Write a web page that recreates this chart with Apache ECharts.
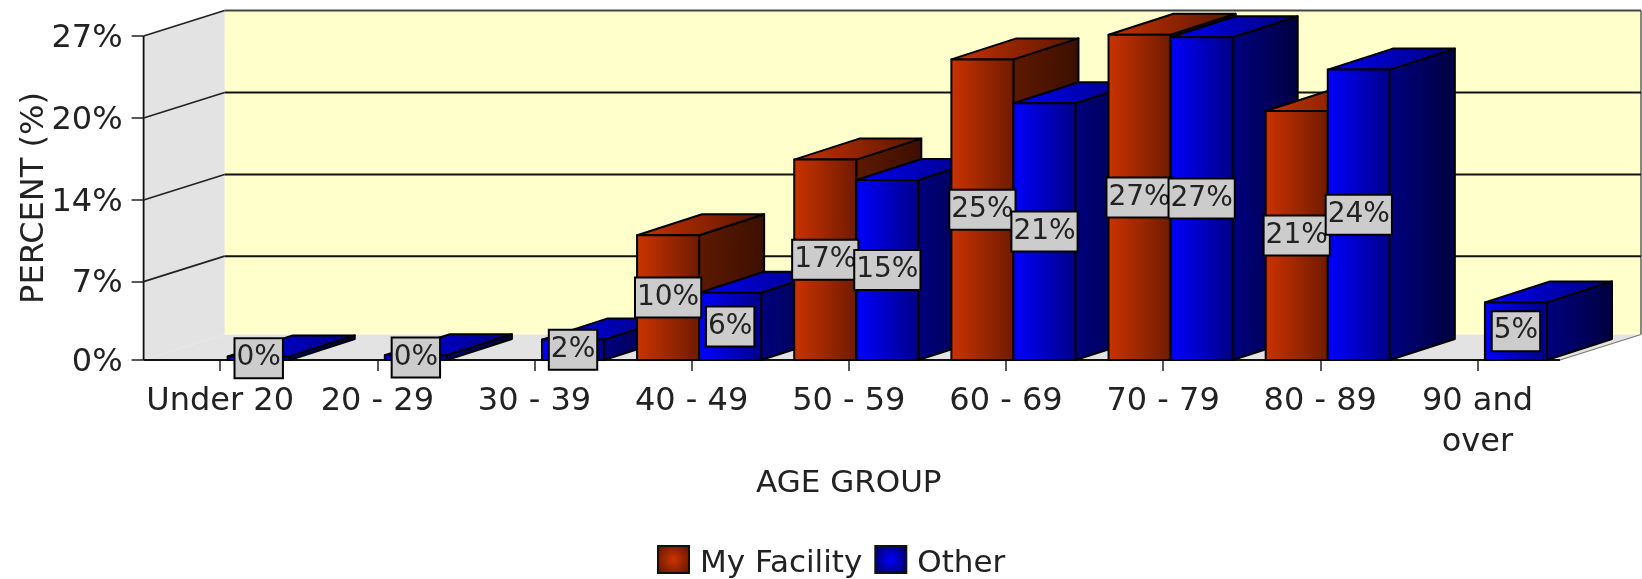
<!DOCTYPE html>
<html>
<head>
<meta charset="utf-8">
<style>
    html, body { margin: 0; padding: 0; background: #fff; }
    #main { width: 1642px; height: 579px; }
</style>
</head>
<body>
<div id="main"></div>
<script src="https://cdn.jsdelivr.net/npm/echarts@6/dist/echarts.min.js"></script>
<script>
    const categories = ['Under 20', '20 - 29', '30 - 39', '40 - 49', '50 - 59', '60 - 69', '70 - 79', '80 - 89', '90 and\nover'];
    const myFacility = [null, null, null, 10.4, 16.7, 25.05, 27.1, 20.75, null];
    const other = [0.3, 0.4, 1.7, 5.6, 15, 21.4, 26.9, 24.2, 4.8];
    const yTicks = [0, 6.53, 13.33, 20.17, 27];
    const yTickLabels = ['0%', '7%', '14%', '20%', '27%'];

    const FONT = '"DejaVu Sans", Verdana, sans-serif';
    const TEXT = '#222';

    // depth of the room and of the bars, in pixels
    const wallDx = 81, wallDy = 25.5;
    const barDx = 65, barDy = 21;
    const barShift = 7.5;

    function hGrad(a, b) {
        return { type: 'linear', x: 0, y: 0, x2: 1, y2: 0, colorStops: [{ offset: 0, color: a }, { offset: 1, color: b }] };
    }
    function legendGrad(a, b) {
        return { type: 'radial', x: 0.5, y: 0.5, r: 0.6, colorStops: [{ offset: 0, color: a }, { offset: 1, color: b }] };
    }

    const redFaces = { front: hGrad('#cc3300', '#6e1a00'), side: hGrad('#5e1900', '#3c0f00'), top: hGrad('#c93200', '#571500') };
    const blueFaces = { front: hGrad('#0000ff', '#000085'), side: hGrad('#000080', '#00003f'), top: hGrad('#0000f5', '#00007a') };

    function poly(points, fill, z2) {
        return {
            type: 'polygon', z2: z2,
            shape: { points: points },
            style: { fill: fill, stroke: '#000', lineWidth: 2, lineJoin: 'round' }
        };
    }

    function barRenderer(faces, seriesNo) {
        return function (params, api) {
            const v = api.value(1);
            if (isNaN(v)) {
                return;
            }
            const cat = api.value(0);
            const top = api.coord([cat, v]);
            const base = api.coord([cat, 0]);
            const w = api.size([1, 0])[0] * 0.395;
            const x0 = top[0] + barShift + (seriesNo === 0 ? -w : 0);
            const x1 = x0 + w;
            const z = cat * 10 + seriesNo * 2;
            return {
                type: 'group',
                children: [
                    poly([[x1, top[1]], [x1 + barDx, top[1] - barDy], [x1 + barDx, base[1] - barDy], [x1, base[1]]], faces.side, z),
                    poly([[x0, top[1]], [x1, top[1]], [x1 + barDx, top[1] - barDy], [x0 + barDx, top[1] - barDy]], faces.top, z),
                    poly([[x0, top[1]], [x1, top[1]], [x1, base[1]], [x0, base[1]]], faces.front, z + 1),
                    {
                        type: 'text', z2: 1000 + z,
                        style: {
                            text: Math.round(v) + '%',
                            x: (x0 + x1) / 2,
                            y: (top[1] + base[1]) / 2,
                            align: 'center',
                            verticalAlign: 'middle',
                            font: '28px ' + FONT,
                            fill: TEXT,
                            backgroundColor: '#cccccc',
                            borderColor: '#000',
                            borderWidth: 2,
                            padding: [5, 1]
                        }
                    }
                ]
            };
        };
    }

    function renderRoom(params, api) {
        const sys = params.coordSys;
        const left = sys.x + 2;
        const right = sys.x + sys.width + 4;
        const y0 = api.coord([0, 0])[1];
        const backLeft = left + wallDx;
        const backRight = right + wallDx;
        const line = function (x1, y1, x2, y2, color, width) {
            return {
                type: 'line', z2: 5,
                shape: { x1: x1, y1: y1, x2: x2, y2: y2 },
                style: { stroke: color || '#111', lineWidth: width || 1.8 }
            };
        };
        const yTop = api.coord([0, 27])[1];
        const children = [
            { type: 'rect', z2: 1, shape: { x: backLeft, y: yTop - wallDy, width: right - left, height: y0 - yTop }, style: { fill: '#ffffcc' } },
            { type: 'polygon', z2: 2, shape: { points: [[left, yTop], [backLeft, yTop - wallDy], [backLeft, y0 - wallDy], [left, y0]] }, style: { fill: '#e3e3e3' } },
            { type: 'polygon', z2: 2, shape: { points: [[left, y0], [right, y0], [backRight, y0 - wallDy], [backLeft, y0 - wallDy]] }, style: { fill: '#e3e3e3' } },
            line(backRight, yTop - wallDy, backRight, y0 - wallDy, '#555', 1.4),
            line(right, y0, backRight, y0 - wallDy, '#777', 1.2),
            line(left, yTop, left, y0),
            line(left, y0, right, y0, '#111', 2.2)
        ];
        yTicks.forEach(function (t) {
            if (t === 0) {
                return;
            }
            const y = api.coord([0, t])[1];
            const isTop = t === yTicks[yTicks.length - 1];
            children.push(line(left, y, backLeft, y - wallDy, '#222', 1.7));
            children.push(line(backLeft, y - wallDy, backRight, y - wallDy, isTop ? '#444' : '#111', 2));
        });
        return { type: 'group', children: children };
    }

    const option = {
        animation: false,
        backgroundColor: '#fff',
        textStyle: { fontFamily: FONT },
        grid: { left: 141.6, top: 36, width: 1414.4, height: 324, outerBoundsMode: 'none' },
        xAxis: {
            type: 'category',
            data: categories,
            name: 'AGE GROUP',
            nameLocation: 'middle',
            nameGap: 108,
            nameMoveOverlap: false,
            nameTextStyle: { fontSize: 31, color: TEXT, fontFamily: FONT },
            axisLine: { show: false },
            axisTick: { show: true, alignWithLabel: true, length: 11, lineStyle: { color: '#222', width: 1.5 } },
            axisLabel: { interval: 0, margin: 21, fontSize: 32, lineHeight: 41, color: TEXT, fontFamily: FONT }
        },
        yAxis: {
            type: 'value',
            min: 0,
            max: 27,
            offset: -2,
            name: 'PERCENT (%)',
            nameLocation: 'middle',
            nameGap: 93,
            nameMoveOverlap: false,
            nameRotate: 90,
            nameTextStyle: { fontSize: 32, color: TEXT, fontFamily: FONT },
            splitLine: { show: false },
            axisLine: { show: false },
            axisTick: { show: true, length: 12, customValues: yTicks, lineStyle: { color: '#222', width: 1.5 } },
            axisLabel: {
                margin: 21, color: TEXT, fontFamily: FONT,
                customValues: yTicks,
                formatter: function (v) {
                    return '{t|' + yTickLabels[yTicks.indexOf(v)] + '}';
                },
                rich: {
                    t: { fontSize: 32, color: TEXT, fontFamily: FONT, padding: [5, 0, 0, 0] }
                }
            }
        },
        legend: {
            left: 657,
            top: 545,
            padding: 0,
            icon: 'rect',
            itemWidth: 31,
            itemHeight: 27,
            itemGap: 12,
            textStyle: {
                color: TEXT,
                rich: {
                    t: { fontSize: 31, color: TEXT, fontFamily: FONT, padding: [9, 0, 0, 6] }
                }
            },
            formatter: function (name) {
                return '{t|' + name + '}';
            },
            data: [
                { name: 'My Facility', itemStyle: { color: legendGrad('#cc3300', '#6e1a00'), borderColor: '#111', borderWidth: 2 } },
                { name: 'Other', itemStyle: { color: legendGrad('#0000ff', '#000070'), borderColor: '#111', borderWidth: 2 } }
            ]
        },
        series: [
            {
                name: 'room',
                type: 'custom',
                z: 1,
                silent: true,
                renderItem: renderRoom,
                data: [[0, 0]]
            },
            {
                name: 'My Facility',
                type: 'custom',
                z: 2,
                renderItem: barRenderer(redFaces, 0),
                encode: { x: 0, y: 1 },
                itemStyle: { color: '#cc3300' },
                data: myFacility.map(function (v, i) { return [i, v === null ? '-' : v]; })
            },
            {
                name: 'Other',
                type: 'custom',
                z: 2,
                renderItem: barRenderer(blueFaces, 1),
                encode: { x: 0, y: 1 },
                itemStyle: { color: '#0000ff' },
                data: other.map(function (v, i) { return [i, v]; })
            }
        ]
    };

    const chart = echarts.init(document.getElementById('main'));
    chart.setOption(option);

    window.addEventListener('resize', function () {
        chart.resize();
    });
</script>
</body>
</html>
